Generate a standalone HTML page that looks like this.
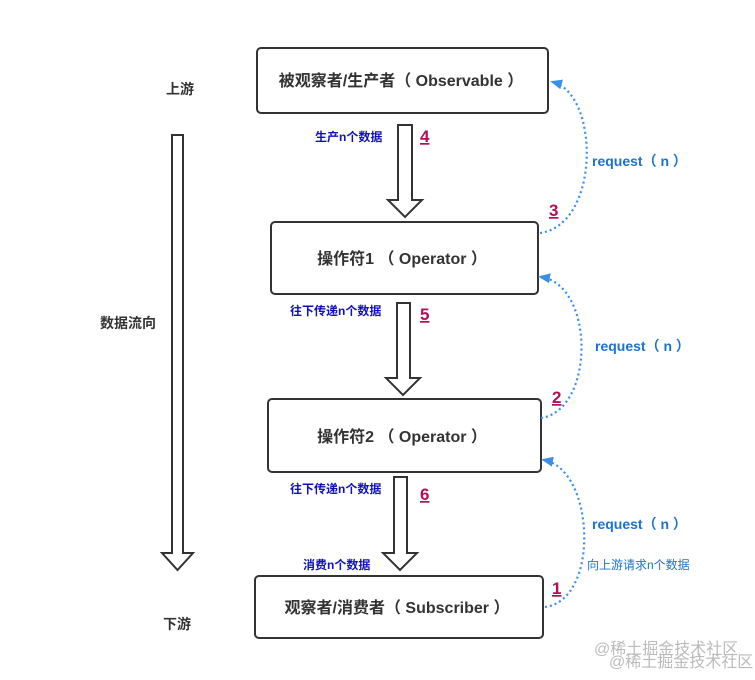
<!DOCTYPE html>
<html><head><meta charset="utf-8"><style>
body{margin:0;background:#fff;}
svg text{font-family:"Liberation Sans","Noto Sans CJK SC",sans-serif;font-weight:bold;}
</style></head><body>
<svg width="755" height="675" viewBox="0 0 755 675" xmlns="http://www.w3.org/2000/svg">
<defs><marker id="ah" markerWidth="12" markerHeight="10" refX="9" refY="5" orient="auto" markerUnits="userSpaceOnUse"><path d="M0,0 L12,5 L0,10 z" fill="#3d8fe6"/></marker></defs>
<g fill="#fff" stroke="#333" stroke-width="2">
<rect x="257" y="48" width="291" height="65" rx="4"/>
<rect x="271" y="222" width="267" height="72" rx="4"/>
<rect x="268" y="399" width="273" height="73" rx="4"/>
<rect x="255" y="576" width="288" height="62" rx="4"/>
<path d="M398,125 H412 V200 H422 L405,217 L388,200 H398 Z"/>
<path d="M397,303 H410 V378 H420 L403,395 L386,378 H397 Z"/>
<path d="M394,477 H407 V553 H417 L400,570 L383,553 H394 Z"/>
<path d="M172,135 H183 V553 H193 L177.5,570 L162,553 H172 Z"/>
</g>
<g fill="#333" font-size="16" text-anchor="middle">
<text x="401" y="86">被观察者/生产者（ Observable ）</text>
<text x="402" y="264">操作符1 （ Operator ）</text>
<text x="402" y="442">操作符2 （ Operator ）</text>
<text x="397" y="613">观察者/消费者（ Subscriber ）</text>
<text x="180" y="94" font-size="14">上游</text>
<text x="128" y="328" font-size="14">数据流向</text>
<text x="177" y="629" font-size="14">下游</text>
</g>
<g fill="#1010c0" font-size="12">
<text x="315" y="141">生产n个数据</text>
<text x="290" y="315">往下传递n个数据</text>
<text x="290" y="493">往下传递n个数据</text>
<text x="303" y="569">消费n个数据</text>
</g>
<g fill="#b0105a" font-size="17" text-decoration="underline">
<text x="420" y="142">4</text>
<text x="420" y="320">5</text>
<text x="420" y="500">6</text>
<text x="549" y="216">3</text>
<text x="552" y="403">2</text>
<text x="552" y="594">1</text>
</g>
<g fill="none" stroke="#3d8fe6" stroke-width="2.2" stroke-dasharray="2,3">
<path d="M540,233 C600,225 600,95 553,82" marker-end="url(#ah)"/>
<path d="M541,418 C595,410 595,285 541,277" marker-end="url(#ah)"/>
<path d="M545,607 C600,600 595,470 544,460" marker-end="url(#ah)"/>
</g>
<g fill="#1a73d0" font-size="14">
<text x="592" y="166">request（ n ）</text>
<text x="595" y="351">request（ n ）</text>
<text x="592" y="529">request（ n ）</text>
<text x="587" y="569" font-size="12" style="font-weight:normal">向上游请求n个数据</text>
</g>
<g fill="#bbb" font-size="16">
<text x="594" y="654" style="font-weight:normal">@稀土掘金技术社区</text>
<text x="609" y="667" style="font-weight:normal">@稀土掘金技术社区</text>
</g>
</svg>
</body></html>
